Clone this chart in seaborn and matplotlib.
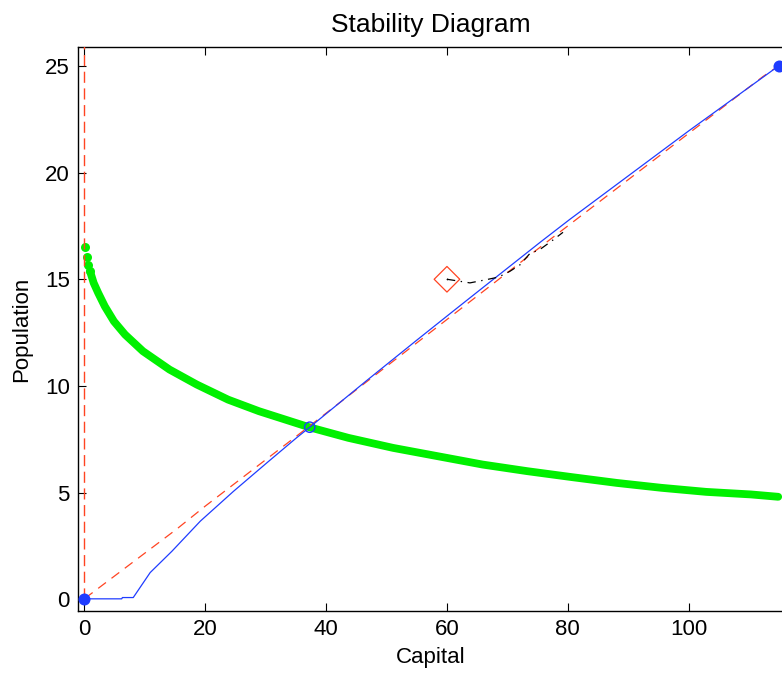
import matplotlib
matplotlib.use("Agg")
import matplotlib.pyplot as plt
import seaborn as sns
import pandas as pd

# ---- data ----
green_x = [0.07, 0.45, 0.68, 0.96, 1.55, 2.3, 3.4, 4.9, 6.74, 9.7, 14.1, 18.6, 23.8, 28.9,
           37.2, 43.7, 51.1, 58.5, 65.9, 73.3, 80.7, 88.1, 95.5, 102.9, 110.3, 114.8]
green_y = [16.51, 16.04, 15.68, 15.37, 14.83, 14.36, 13.73, 13.03, 12.41, 11.63, 10.77, 10.07, 9.36, 8.82,
           8.07, 7.57, 7.10, 6.71, 6.32, 6.01, 5.73, 5.46, 5.23, 5.04, 4.92, 4.81]

blue_x = [0.0, 6.2, 6.3, 8.1, 10.9, 14.5, 19.2, 24.7, 30.2, 35.1, 37.3, 46.7, 54.8, 61.0, 65.9,
          75.5, 80.3, 100.0, 114.9]
blue_y = [0.03, 0.03, 0.09, 0.09, 1.26, 2.26, 3.67, 5.07, 6.4, 7.57, 8.07, 10.25, 12.1, 13.5, 14.6,
          16.75, 17.8, 21.95, 25.0]

red_x = [0.1, 15.3, 20.0, 35.1, 63.8, 77.0, 112.3, 114.9]
red_y = [0.05, 3.3, 4.37, 7.65, 13.95, 16.85, 24.5, 25.0]

red_vert_x = [0.0, 0.0]
red_vert_y = [0.0, 26.5]

traj_x = [60.0, 61.6, 63.8, 66.5, 68.5, 70.4, 72.1, 73.7, 75.4, 77.6, 79.2]
traj_y = [15.0, 14.93, 14.83, 14.98, 15.1, 15.37, 15.68, 16.2, 16.4, 16.85, 17.2]

steady_x = [0.0, 114.9]
steady_y = [0.0, 25.0]
saddle_x = [37.3]
saddle_y = [8.07]
start_x = [60.0]
start_y = [15.0]

x_ticks = [0, 20, 40, 60, 80, 100]
y_ticks = [0, 5, 10, 15, 20, 25]

# ---- style ----
sns.set_style("ticks")
plt.rcParams["font.family"] = ["Liberation Sans", "DejaVu Sans"]
plt.rcParams["lines.scale_dashes"] = False
plt.rcParams["text.color"] = "black"
plt.rcParams["axes.labelcolor"] = "black"

GREEN = "#00f000"
BLUE = "#1f3cff"
RED = "#ff4422"

fig = plt.figure(figsize=(7.82, 6.73), dpi=100)
ax = fig.add_axes([78 / 782, 62 / 673, 706 / 782, 564 / 673])

# green curve
gdf = pd.DataFrame({"x": green_x, "y": green_y})
sns.lineplot(data=gdf.iloc[3:], x="x", y="y", sort=False, estimator=None, ax=ax,
             color=GREEN, linewidth=5.6, solid_capstyle="round", zorder=2)
sns.scatterplot(data=gdf.iloc[:4], x="x", y="y", ax=ax, color=GREEN, s=42, linewidth=0, zorder=2)

# red dashed nullclines
rdf = pd.DataFrame({"x": red_x, "y": red_y})
sns.lineplot(data=rdf, x="x", y="y", sort=False, estimator=None, ax=ax,
             color=RED, linewidth=0.9, linestyle=(0, (7, 5)), zorder=3)
rvdf = pd.DataFrame({"x": red_vert_x, "y": red_vert_y})
sns.lineplot(data=rvdf, x="x", y="y", sort=False, estimator=None, ax=ax,
             color=RED, linewidth=1.0, linestyle=(0, (8, 4)), zorder=3)

# blue line
bdf = pd.DataFrame({"x": blue_x, "y": blue_y})
sns.lineplot(data=bdf, x="x", y="y", sort=False, estimator=None, ax=ax,
             color=BLUE, linewidth=0.9, zorder=4)

# trajectory
tdf = pd.DataFrame({"x": traj_x, "y": traj_y})
sns.lineplot(data=tdf, x="x", y="y", sort=False, estimator=None, ax=ax,
             color="black", linewidth=0.9, linestyle=(0, (6, 4, 1, 4)), zorder=4)

# markers
sdf = pd.DataFrame({"x": steady_x, "y": steady_y})
sns.scatterplot(data=sdf, x="x", y="y", ax=ax, color=BLUE, s=75, linewidth=0, zorder=5, clip_on=False)
sadf = pd.DataFrame({"x": saddle_x, "y": saddle_y})
sns.scatterplot(data=sadf, x="x", y="y", ax=ax, facecolor="none", edgecolor=BLUE, s=55,
                linewidth=1.0, zorder=5)
stdf = pd.DataFrame({"x": start_x, "y": start_y})
sns.scatterplot(data=stdf, x="x", y="y", ax=ax, marker="D", facecolor="none", edgecolor=RED,
                s=170, linewidth=0.9, zorder=5)
sns.scatterplot(data=stdf, x="x", y="y", ax=ax, color="black", s=1.5, linewidth=0, zorder=6)

# axes
ax.set_xlim(-1.04, 115.76)
ax.set_ylim(-0.54, 25.88)
ax.set_xticks(x_ticks)
ax.set_yticks(y_ticks)
ax.tick_params(direction="in", length=5.5, width=0.8, labelsize=16, top=True, right=False,
               colors="black", pad=6)
for name, sp in ax.spines.items():
    sp.set_visible(name != "right")
    sp.set_linewidth(1.0)
    sp.set_color("black")
ax.set_xlabel("Capital", fontsize=16, labelpad=5)
ax.set_ylabel("Population", fontsize=16, labelpad=9)
ax.set_title("Stability Diagram", fontsize=19, pad=11)

fig.savefig("out.png", dpi=100)
